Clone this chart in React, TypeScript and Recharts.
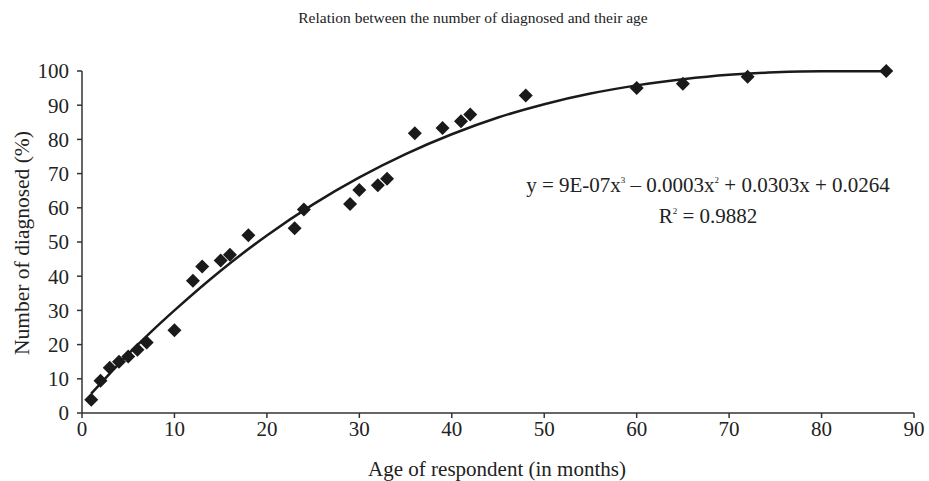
import React from "react";
import { ComposedChart, Scatter, Line, XAxis, YAxis, Customized } from "recharts";

const ages = [1, 2, 3, 4, 5, 6, 7, 10, 12, 13, 15, 16, 18, 23, 24, 29, 30, 32, 33, 36, 39, 41, 42, 48, 60, 65, 72, 87];
const diagnosed = [3.9, 9.4, 13.2, 15, 16.5, 18.5, 20.6, 24.2, 38.7, 42.8, 44.6, 46.3, 52, 54, 59.5, 61.1, 65.2, 66.6, 68.5, 81.8, 83.3, 85.3, 87.3, 92.8, 95, 96.3, 98.3, 100];

const trendAges = [1, 3, 5, 7.5, 10, 15, 20, 25, 30, 35, 40, 45, 50, 55, 60, 65, 70, 75, 80, 87];
const trendValues = [5.7, 11.5, 17.2, 23.8, 30, 41.6, 51.9, 61, 68.9, 75.7, 81.5, 86.4, 90.3, 93.4, 95.8, 97.6, 98.9, 99.6, 99.9, 99.9];

const xTicks = [0, 10, 20, 30, 40, 50, 60, 70, 80, 90];
const yTicks = [0, 10, 20, 30, 40, 50, 60, 70, 80, 90, 100];

const title = "Relation between the number of diagnosed and their age";
const xLabel = "Age of respondent (in months)";
const yLabel = "Number of diagnosed (%)";

const points = ages.map((a, i) => ({ x: a, y: diagnosed[i] }));
const trend = trendAges.map((a, i) => ({ x: a, y: trendValues[i] }));

const FONT = "Liberation Serif";

const Diamond = (props: any) => {
  const { cx, cy } = props;
  const r = 7;
  return (
    <polygon
      points={`${cx},${cy - r} ${cx + r},${cy} ${cx},${cy + r} ${cx - r},${cy}`}
      fill="#1a1a1a"
    />
  );
};

const Texts = () => (
  <g style={{ fontFamily: FONT }} fill="#222">
    <text x={473} y={23} textAnchor="middle" fontSize={15.5} style={{ fontFamily: FONT }}>{title}</text>
    <text x={497} y={476} textAnchor="middle" fontSize={21} style={{ fontFamily: FONT }}>{xLabel}</text>
    <text x={29} y={243} textAnchor="middle" fontSize={21.5} style={{ fontFamily: FONT }} transform="rotate(-90 29 243)">{yLabel}</text>
    <text x={708} y={192} textAnchor="middle" fontSize={21} style={{ fontFamily: FONT }}>
      y = 9E-07x<tspan dy={-9} fontSize={9}>3</tspan>
      <tspan dy={9}> – 0.0003x</tspan>
      <tspan dy={-9} fontSize={9}>2</tspan>
      <tspan dy={9}> + 0.0303x + 0.0264</tspan>
    </text>
    <text x={708} y={223} textAnchor="middle" fontSize={21} style={{ fontFamily: FONT }}>
      R<tspan dy={-9} fontSize={9}>2</tspan>
      <tspan dy={9}> = 0.9882</tspan>
    </text>
  </g>
);

export default function App() {
  return (
    <div style={{ position: "absolute", left: 0, top: 0, width: 929, height: 481, background: "#fff", fontFamily: FONT }}>
      <ComposedChart width={929} height={481} margin={{ top: 71, right: 15, bottom: 0, left: 0 }} style={{ fontFamily: FONT }}>
        <XAxis
          type="number"
          dataKey="x"
          domain={[0, 90]}
          ticks={xTicks}
          interval={0}
          height={68}
          tickSize={5}
          tickMargin={3}
          stroke="#333"
          strokeWidth={1.5}
          tick={{ fill: "#222", fontSize: 21, style: { fontFamily: FONT } }}
        />
        <YAxis
          type="number"
          dataKey="y"
          domain={[0, 100]}
          ticks={yTicks}
          interval={0}
          width={82}
          tickSize={5}
          tickMargin={8}
          stroke="#333"
          strokeWidth={1.5}
          tick={{ fill: "#222", fontSize: 21, style: { fontFamily: FONT } }}
        />
        <Line
          data={trend}
          dataKey="y"
          type="monotone"
          stroke="#1a1a1a"
          strokeWidth={2.5}
          dot={false}
          activeDot={false}
          isAnimationActive={false}
        />
        <Scatter data={points} dataKey="y" shape={Diamond} isAnimationActive={false} />
        <Customized component={Texts} />
      </ComposedChart>
    </div>
  );
}
